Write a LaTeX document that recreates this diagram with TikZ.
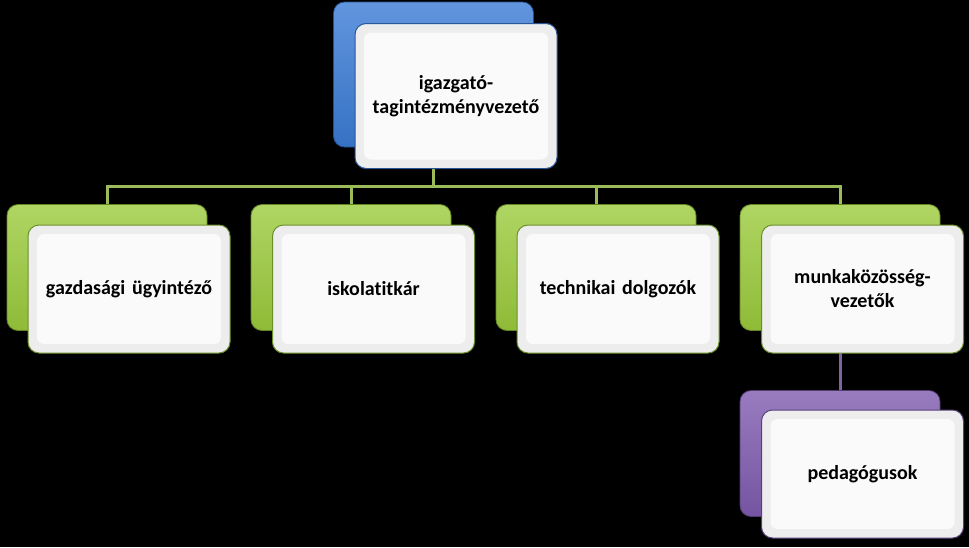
\documentclass[tikz,border=0pt]{standalone}
\usepackage{fontspec}
\setmainfont{Carlito}[Ligatures=NoCommon]
\usepackage{xcolor}
\usepackage{tikz}
\usetikzlibrary{positioning}
\definecolor{kek}{HTML}{3A7BD5}
\definecolor{zold}{HTML}{9BCB3C}
\definecolor{lila}{HTML}{7F5BAF}
\definecolor{zoldvonal}{HTML}{9BBB59}
\definecolor{lilavonal}{HTML}{8064A2}
\pgfdeclarelayer{hatter}
\pgfsetlayers{hatter,main}
\begin{document}
\begin{tikzpicture}[x=1pt,y=-1pt,
hat/.style={rounded corners=11pt,draw=#1!65!black,line width=0.8pt,top color=#1!80!white,bottom color=#1!92!black,minimum width=200pt,minimum height=126pt},
lap/.style={rounded corners=11pt,draw=#1!70!black,line width=1pt,fill=gray!14,minimum width=202pt,minimum height=128pt,text width=190pt,align=center,
 font=\bfseries\fontsize{20}{24}\selectfont,
 path picture={\fill[gray!4,rounded corners=7pt]([shift={(9pt,-9pt)}]path picture bounding box.north west) rectangle ([shift={(-9pt,9pt)}]path picture bounding box.south east);}},
vonal/.style={draw=#1,line width=3pt}]
% fonok
\node[hat=kek,minimum height=145pt](igB) at (433.5,74.5){};
\node[lap=kek,minimum height=145pt](igF) at (456,96){igazgató-\\tagintézményvezető};
% elso sor
\node[hat=zold](gazdB) at (107,267.5){};
\node[lap=zold](gazdF) at (129,289){gazdasági ügyintéző};
\node[hat=zold](titkB) at (351,267.5){};
\node[lap=zold](titkF) at (373.5,289){iskolatitkár};
\node[hat=zold](techB) at (596,267.5){};
\node[lap=zold](techF) at (618,289){technikai dolgozók};
\node[hat=zold](munkB) at (840,267.5){};
\node[lap=zold](munkF) at (862.5,289){munkaközösség-\\vezetők};
% masodik sor
\node[hat=lila](pedB) at (840,453.5){};
\node[lap=lila](pedF) at (862.5,474){pedagógusok};
\coordinate (sin) at (0,186);
\begin{pgfonlayer}{hatter}
\fill[black](0,0)rectangle(969,547);
\draw[vonal=zoldvonal](igB.south)--(igB.south|-sin)-|(gazdB.north)
(igB.south|-sin)-|(titkB.north)
(igB.south|-sin)-|(techB.north)
(igB.south|-sin)-|(munkB.north);
\draw[vonal=lilavonal](munkB.south)--(pedB.north);
\end{pgfonlayer}
\end{tikzpicture}
\end{document}
